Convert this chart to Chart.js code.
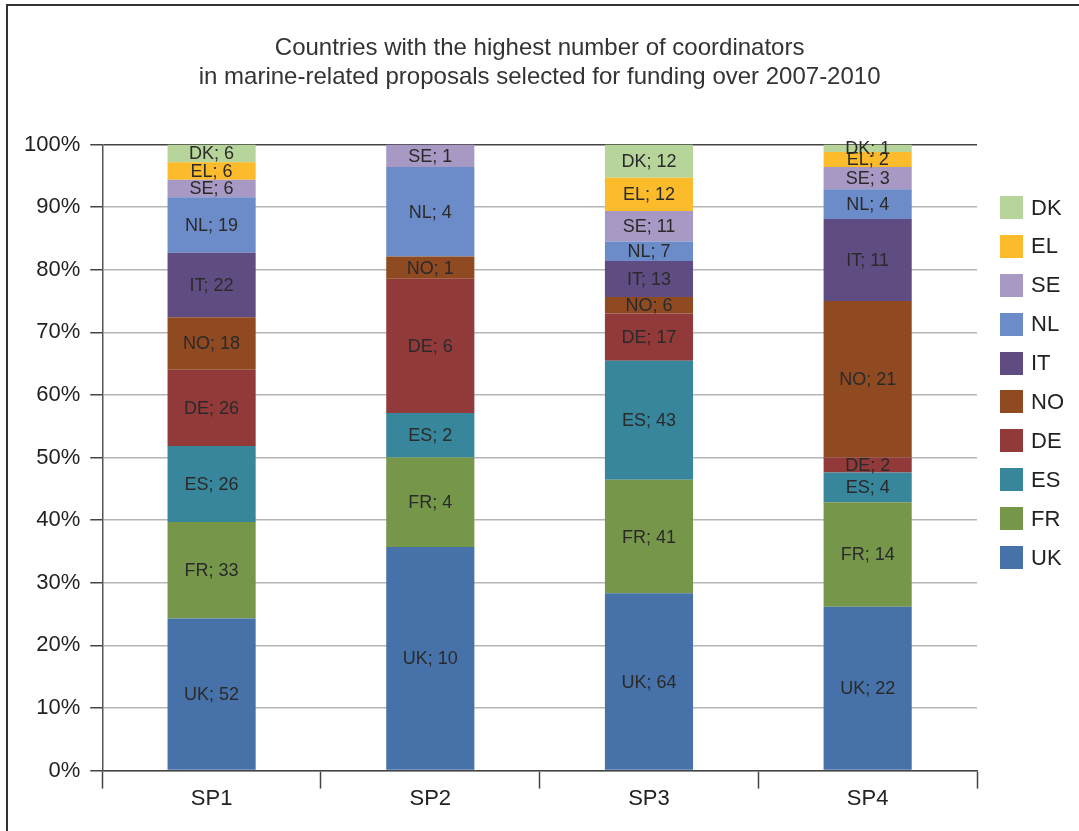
<!DOCTYPE html>
<html lang="en">
<head>
    <meta charset="UTF-8">
    <title>Coordinators in marine-related proposals 2007-2010</title>
    <script src="https://cdn.jsdelivr.net/npm/chart.js"></script>
    <style>
        html, body { margin: 0; padding: 0; background: #fff; }
        body { width: 1079px; height: 831px; position: relative; overflow: hidden; font-family: "Liberation Sans", Arial, sans-serif; }
        #frame {
            position: absolute; left: 6px; top: 4px; right: -5px; bottom: -5px;
            border-left: 2px solid #333; border-top: 2px solid #333;
        }
        #wrap { position: absolute; left: 0; top: 0; width: 1079px; height: 831px; }
        #legend { position: absolute; left: 1000px; top: 196px; margin: 0; padding: 0; list-style: none; }
        #legend li { display: flex; align-items: center; height: 23px; margin-bottom: 15.9px; font-size: 22px; color: #222; }
        #legend span.box { display: inline-block; width: 23px; height: 23px; margin-right: 8px; }
    </style>
</head>
<body>
    <div id="frame"></div>
    <div id="wrap"><canvas id="chart" width="1079" height="831"></canvas></div>
    <ul id="legend"></ul>

    <script>
        // categories (sub-programmes)
        const programmes = ['SP1', 'SP2', 'SP3', 'SP4'];

        // number of coordinators per country, per programme
        const UK = [52, 10, 64, 22];
        const FR = [33, 4, 41, 14];
        const ES = [26, 2, 43, 4];
        const DE = [26, 6, 17, 2];
        const NO = [18, 1, 6, 21];
        const IT = [22, 0, 13, 11];
        const NL = [19, 4, 7, 4];
        const SE = [6, 1, 11, 3];
        const EL = [6, 0, 12, 2];
        const DK = [6, 0, 12, 1];

        const countries = ['UK', 'FR', 'ES', 'DE', 'NO', 'IT', 'NL', 'SE', 'EL', 'DK'];
        const counts = [UK, FR, ES, DE, NO, IT, NL, SE, EL, DK];
        const colors = ['#4672a9', '#76974a', '#37869c', '#923a3a', '#8f4a22',
                        '#5e4c82', '#6b8cc8', '#a898c4', '#fbbb2a', '#b7d49b'];

        const yTicks = [0, 10, 20, 30, 40, 50, 60, 70, 80, 90, 100];

        // column totals, used to turn counts into shares of 100%
        const totals = programmes.map((p, i) => counts.reduce((s, c) => s + c[i], 0));

        const datasets = countries.map((name, k) => ({
            label: name,
            data: counts[k].map((v, i) => v / totals[i] * 100),
            counts: counts[k],
            backgroundColor: colors[k],
            borderWidth: 0,
            barPercentage: 0.403,
            categoryPercentage: 1.0
        }));

        // writes "UK; 52" in the middle of each segment
        const segmentLabels = {
            id: 'segmentLabels',
            afterDatasetsDraw(chart) {
                const ctx = chart.ctx;
                ctx.save();
                ctx.font = '18px "Liberation Sans", Arial, sans-serif';
                ctx.fillStyle = '#2a2a2a';
                ctx.textAlign = 'center';
                ctx.textBaseline = 'middle';
                chart.data.datasets.forEach((ds, k) => {
                    const meta = chart.getDatasetMeta(k);
                    meta.data.forEach((bar, i) => {
                        const n = ds.counts[i];
                        if (!n) return;
                        const mid = (bar.y + bar.base) / 2;
                        ctx.fillText(ds.label + '; ' + n, bar.x, mid + 1);
                    });
                });
                ctx.restore();
            }
        };

        // legend built as html from the chart's own labels, top item first
        const htmlLegend = {
            id: 'htmlLegend',
            afterUpdate(chart) {
                const ul = document.getElementById('legend');
                ul.innerHTML = '';
                const items = chart.options.plugins.legend.labels.generateLabels(chart).reverse();
                items.forEach(item => {
                    const li = document.createElement('li');
                    const box = document.createElement('span');
                    box.className = 'box';
                    box.style.background = item.fillStyle;
                    li.appendChild(box);
                    li.appendChild(document.createTextNode(item.text));
                    ul.appendChild(li);
                });
            }
        };

        const ctx = document.getElementById('chart').getContext('2d');
        new Chart(ctx, {
            type: 'bar',
            data: { labels: programmes, datasets: datasets },
            options: {
                responsive: false,
                animation: false,
                layout: { padding: { left: 14, right: 102, top: 0, bottom: 22 } },
                plugins: {
                    legend: { display: false },
                    tooltip: { enabled: false },
                    title: {
                        display: true,
                        fullSize: false,
                        text: ['Countries with the highest number of coordinators',
                               'in marine-related proposals selected for funding over 2007-2010'],
                        color: '#333',
                        font: { family: '"Liberation Sans", Arial, sans-serif', size: 24, weight: 'normal', lineHeight: 1.2 },
                        padding: { top: 34, bottom: 53 }
                    }
                },
                scales: {
                    x: {
                        stacked: true,
                        grid: {
                            offset: true,
                            drawOnChartArea: false,
                            drawTicks: true,
                            tickLength: 18,
                            tickColor: '#444',
                            tickWidth: 1.5
                        },
                        border: { color: '#444', width: 1.5 },
                        ticks: {
                            color: '#222',
                            padding: -3,
                            font: { family: '"Liberation Sans", Arial, sans-serif', size: 22 }
                        }
                    },
                    y: {
                        stacked: true,
                        min: 0,
                        max: 100,
                        afterBuildTicks(axis) {
                            axis.ticks = yTicks.map(v => ({ value: v }));
                        },
                        grid: {
                            color: c => c.tick && c.tick.value === 100 ? '#444' : '#b5b5b5',
                            lineWidth: 1.5,
                            tickLength: 12,
                            tickColor: '#444'
                        },
                        border: { color: '#555', width: 1.5 },
                        ticks: {
                            color: '#222',
                            padding: 10,
                            font: { family: '"Liberation Sans", Arial, sans-serif', size: 22 },
                            callback: v => v + '%'
                        }
                    }
                }
            },
            plugins: [segmentLabels, htmlLegend]
        });
    </script>
</body>
</html>
